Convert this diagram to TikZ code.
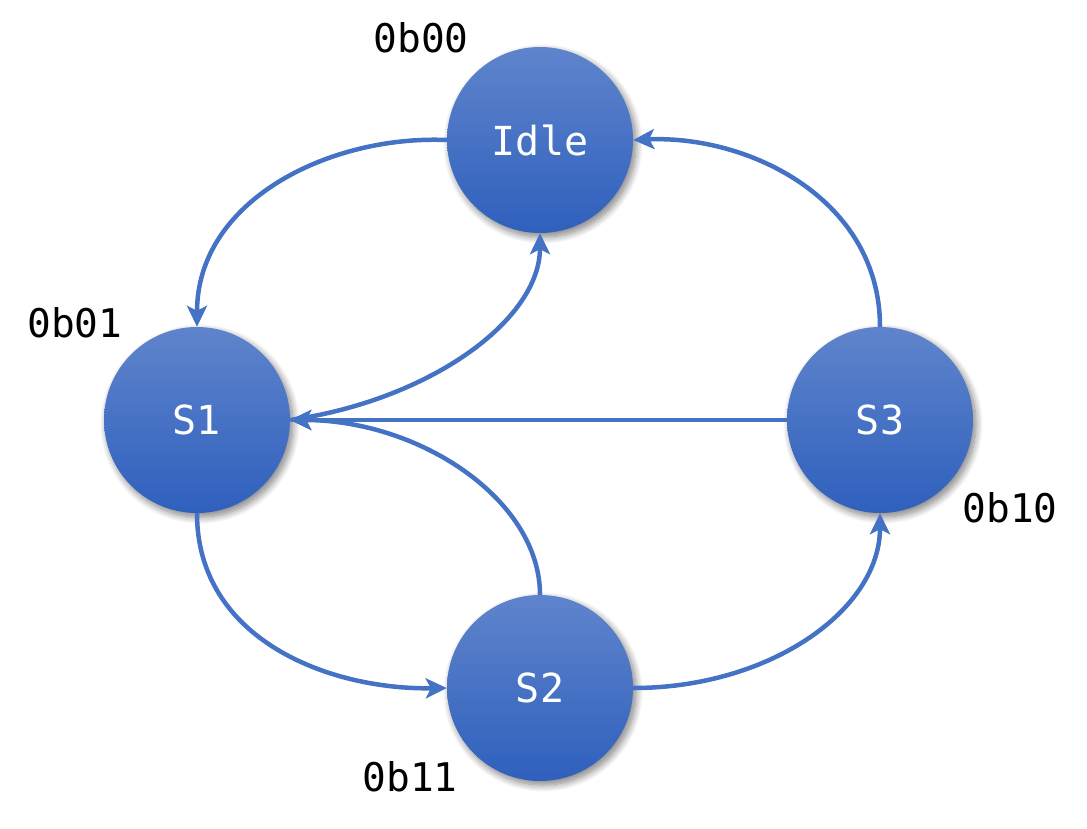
\documentclass[tikz,border=0pt]{standalone}
\usepackage{fontspec}
\setmonofont{DejaVu Sans Mono}
\usetikzlibrary{arrows.meta,shadows.blur}
\definecolor{stateblue}{HTML}{4472C4}
\definecolor{statetop}{HTML}{5F84CC}
\definecolor{statebot}{HTML}{2F60BD}
\tikzset{
  state/.style={circle, minimum size=186pt, inner sep=0pt,
    top color=statetop, bottom color=statebot, draw=none,
    text=white, font=\ttfamily\fontsize{40}{42}\selectfont,
    blur shadow={shadow xshift=3pt, shadow yshift=-4pt,
      shadow blur steps=12, shadow opacity=50, shadow blur radius=7pt}},
  code/.style={font=\ttfamily\fontsize{39.5}{41}\selectfont, text=black},
  trans/.style={draw=stateblue, line width=4.5pt,
    -{Stealth[length=21pt,width=20pt,inset=5pt]}},
}
\begin{document}
\begin{tikzpicture}[x=1pt,y=-1pt]
  \useasboundingbox (0,0) rectangle (1087,829);

  % states
  \node[state] (idle) at (540,140) {Idle};
  \node[state] (s1)   at (197,420) {S1};
  \node[state] (s3)   at (880,420) {S3};
  \node[state] (s2)   at (540,688) {S2};

  % state encodings
  \node[code] (cidle) at (421,38)  {0b00};
  \node[code] (cs1)   at (75,323)  {0b01};
  \node[code] (cs3)   at (1010,508) {0b10};
  \node[code] (cs2)   at (410,777) {0b11};

  % transitions
  \draw[trans] (idle.west) .. controls (330,135) and (197,200) .. (s1.north);
  \draw[trans] (s1.east) .. controls (430,400) and (540,320) .. (idle.south);
  \draw[trans] (s3.west) -- (s1.east);
  \draw[trans] (s2.north) .. controls (540,500) and (420,420) .. (s1.east);
  \draw[trans] (s1.south) .. controls (197,640) and (330,690) .. (s2.west);
  \draw[trans] (s2.east) .. controls (770,688) and (880,610) .. (s3.south);
  \draw[trans] (s3.north) .. controls (880,200) and (750,135) .. (idle.east);
\end{tikzpicture}
\end{document}
